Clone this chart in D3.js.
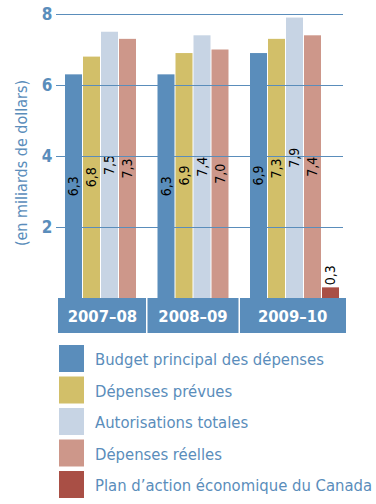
<!DOCTYPE html>
<html>
<head>
<meta charset="utf-8">
<script src="https://cdn.jsdelivr.net/npm/d3@7"></script>
<style>
  body { margin: 0; background: #fff; }
  svg { display: block; font-family: "Liberation Sans Narrow", "DejaVu Sans Condensed", "Roboto", sans-serif; }
</style>
</head>
<body>
<svg width="376" height="504"></svg>
<script>
var categories = ["2007–08", "2008–09", "2009–10"];
var seriesNames = ["Budget principal des dépenses", "Dépenses prévues", "Autorisations totales", "Dépenses réelles", "Plan d’action économique du Canada"];
var budget = [6.3, 6.3, 6.9];
var prevues = [6.8, 6.9, 7.3];
var autorisations = [7.5, 7.4, 7.9];
var reelles = [7.3, 7.0, 7.4];
var planAction = [null, null, 0.3];
var yTicks = [2, 4, 6, 8];
var colors = ["#5a8dbb", "#d2bf69", "#c7d4e4", "#cd978a", "#a94f45"];

var allSeries = [budget, prevues, autorisations, reelles, planAction];
var blue = "#5a8dbb";

var svg = d3.select("svg");

var y = d3.scaleLinear().domain([0, 8]).range([298, 14]);
var x0 = d3.scalePoint().domain(categories).range([65, 250]);
var x1 = d3.scaleBand().domain(d3.range(seriesNames.length)).range([0, 89]).paddingInner(1 / 18);
var bw = x1.bandwidth();

var fmt = function (v) { return d3.format(".1f")(v).replace(".", ","); };

// bars
var groups = svg.append("g").selectAll("g")
  .data(categories)
  .enter().append("g")
  .attr("transform", function (c) { return "translate(" + x0(c) + ",0)"; });

groups.each(function (c, ci) {
  var rows = [];
  allSeries.forEach(function (s, si) {
    if (s[ci] != null) rows.push({ s: si, v: s[ci] });
  });
  var g = d3.select(this);
  g.selectAll("rect").data(rows).enter().append("rect")
    .attr("x", function (d) { return x1(d.s); })
    .attr("width", bw)
    .attr("y", function (d) { return y(d.v); })
    .attr("height", function (d) { return y(0) - y(d.v); })
    .attr("fill", function (d) { return colors[d.s]; });
});

// gridlines (drawn on top of bars)
svg.append("g").selectAll("line")
  .data(yTicks)
  .enter().append("line")
  .attr("x1", 56).attr("x2", 343)
  .attr("y1", function (d) { return y(d) + 0.5; })
  .attr("y2", function (d) { return y(d) + 0.5; })
  .attr("stroke", blue)
  .attr("stroke-width", 1.1);

svg.append("g").selectAll("text")
  .data(yTicks)
  .enter().append("text")
  .attr("x", 47)
  .attr("y", function (d) { return y(d) + 6; })
  .attr("text-anchor", "middle")
  .attr("font-size", 17)
  .attr("font-weight", "bold")
  .attr("fill", blue)
  .text(function (d) { return d; });

svg.append("text")
  .attr("transform", "translate(27,163) rotate(-90)")
  .attr("text-anchor", "middle")
  .attr("font-size", 16)
  .attr("fill", blue)
  .text("(en miliards de dollars)");

// value labels
groups.each(function (c, ci) {
  var g = d3.select(this);
  allSeries.forEach(function (s, si) {
    var v = s[ci];
    if (v == null) return;
    var cx = x1(si) + bw / 2 + 4.5;
    var inside = (y(0) - y(v)) > 30;
    var cy = inside ? (y(0) + y(v)) / 2 : y(v) - 2;
    g.append("text")
      .attr("transform", "translate(" + cx + "," + cy + ") rotate(-90)")
      .attr("text-anchor", inside ? "middle" : "start")
      .attr("font-size", 14)
      .attr("fill", "#000")
      .text(fmt(v));
  });
});

// category band
var extents = categories.map(function (c, ci) {
  var last = 0;
  allSeries.forEach(function (s, si) { if (s[ci] != null) last = si; });
  return [x0(c), x0(c) + x1(last) + bw];
});
var bounds = [extents[0][0] - 7];
for (var i = 0; i < extents.length - 1; i++) {
  bounds.push((extents[i][1] + extents[i + 1][0]) / 2);
}
bounds.push(extents[extents.length - 1][1] + 7);

var band = svg.append("g");
band.append("rect")
  .attr("x", bounds[0]).attr("y", y(0))
  .attr("width", bounds[bounds.length - 1] - bounds[0])
  .attr("height", 35)
  .attr("fill", blue);
bounds.slice(1, -1).forEach(function (b) {
  band.append("line")
    .attr("x1", b).attr("x2", b)
    .attr("y1", y(0)).attr("y2", y(0) + 35)
    .attr("stroke", "#fff").attr("stroke-width", 1.5);
});
categories.forEach(function (c, ci) {
  band.append("text")
    .attr("x", (bounds[ci] + bounds[ci + 1]) / 2)
    .attr("y", y(0) + 24)
    .attr("text-anchor", "middle")
    .attr("font-size", 16.5)
    .attr("font-weight", "bold")
    .attr("fill", "#fff")
    .text(c);
});

// legend
var legend = svg.append("g").selectAll("g")
  .data(seriesNames)
  .enter().append("g")
  .attr("transform", function (d, i) { return "translate(59," + (345 + i * 31.5) + ")"; });

legend.append("rect")
  .attr("width", 25).attr("height", 27)
  .attr("fill", function (d, i) { return colors[i]; });

legend.append("text")
  .attr("x", 36).attr("y", 20)
  .attr("font-size", 16.5)
  .attr("fill", blue)
  .text(function (d) { return d; });
</script>
</body>
</html>
